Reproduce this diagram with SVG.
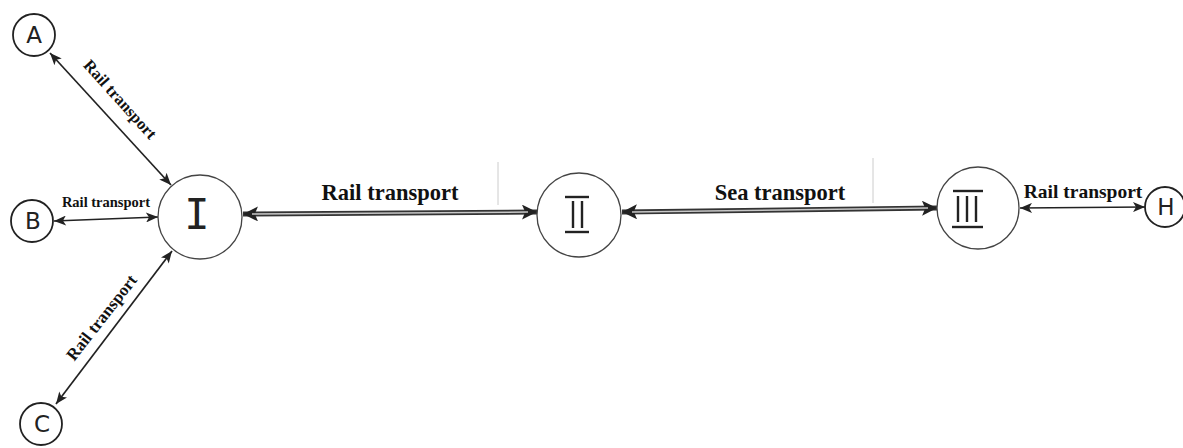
<svg xmlns="http://www.w3.org/2000/svg" width="1183" height="448" viewBox="0 0 1183 448">
<style>
.node{fill:#fff;stroke:#222;stroke-width:1.8}
.hub{fill:#fff;stroke:#444;stroke-width:1.3}
.nl{font-family:"DejaVu Sans","Liberation Sans",sans-serif;font-size:23px;fill:#222;text-anchor:middle}
.rn{font-family:"DejaVu Sans Mono","Liberation Mono",monospace;fill:#222;text-anchor:middle}
.bar{stroke:#222;stroke-width:2.4}
.thin{stroke:#222;stroke-width:1.7;fill:none}
.thick{stroke:#333;stroke-width:5;fill:none}
.inner{stroke:#c8c8c8;stroke-width:1.5;fill:none}
.lbl{font-family:"Liberation Serif","Times New Roman",serif;font-weight:bold;fill:#111}
.faint{stroke:#ccc;stroke-width:1}
</style>
<defs>
<marker id="ah" viewBox="0 0 12 10" refX="12" refY="5" markerWidth="13" markerHeight="10" markerUnits="userSpaceOnUse" orient="auto-start-reverse">
<path d="M0,0 L12,5 L0,10 L3,5 Z" fill="#222"/>
</marker>
<marker id="ahb" viewBox="0 0 14 14" refX="14" refY="7" markerWidth="15" markerHeight="15" markerUnits="userSpaceOnUse" orient="auto-start-reverse">
<path d="M0,0 L14,7 L0,14 L3,7 Z" fill="#222"/>
</marker>
</defs>

<g id="artifacts">
<line class="faint" x1="498" y1="162" x2="498" y2="205"/>
<line class="faint" x1="873" y1="158" x2="873" y2="203"/>
</g>

<g id="connectors">
<line class="thin" x1="50" y1="53" x2="171" y2="185" marker-start="url(#ah)" marker-end="url(#ah)"/>
<line class="thin" x1="54" y1="221" x2="158" y2="217" marker-start="url(#ah)" marker-end="url(#ah)"/>
<line class="thin" x1="56" y1="404" x2="172" y2="251" marker-start="url(#ah)" marker-end="url(#ah)"/>
<line class="thick" x1="243" y1="214" x2="537" y2="212" marker-start="url(#ahb)" marker-end="url(#ahb)"/>
<line class="inner" x1="252" y1="214" x2="528" y2="212"/>
<line class="thick" x1="622" y1="212" x2="937" y2="208" marker-start="url(#ahb)" marker-end="url(#ahb)"/>
<line class="inner" x1="632" y1="212" x2="928" y2="208"/>
<line class="thin" x1="1020" y1="208" x2="1145" y2="207" marker-start="url(#ah)" marker-end="url(#ah)"/>
<text class="lbl" font-size="16.5" transform="translate(116,103) rotate(48)" text-anchor="middle">Rail transport</text>
<text class="lbl" font-size="14.5" x="106" y="207" text-anchor="middle">Rail transport</text>
<text class="lbl" font-size="17" transform="translate(106,321) rotate(-52)" text-anchor="middle">Rail transport</text>
<text class="lbl" font-size="22.5" x="390" y="200" text-anchor="middle">Rail transport</text>
<text class="lbl" font-size="22.5" x="780" y="200" text-anchor="middle">Sea transport</text>
<text class="lbl" font-size="19.5" x="1083" y="198" text-anchor="middle">Rail transport</text>
</g>

<g id="node-A">
<circle class="node" cx="34" cy="35" r="21"/>
<text class="nl" x="34" y="43">A</text>
</g>
<g id="node-B">
<circle class="node" cx="32" cy="221" r="21"/>
<text class="nl" x="33" y="229">B</text>
</g>
<g id="node-C">
<circle class="node" cx="41" cy="424" r="21"/>
<text class="nl" x="42" y="432">C</text>
</g>
<g id="node-H">
<circle class="node" cx="1165" cy="207" r="20"/>
<text class="nl" x="1166" y="215">H</text>
</g>
<g id="node-I">
<circle class="hub" cx="200" cy="217" r="42"/>
<text class="rn" font-size="42" x="197" y="229">I</text>
</g>
<g id="node-II">
<circle class="hub" cx="579" cy="215" r="42"/>
<line class="bar" x1="565" y1="197" x2="589" y2="197"/>
<line class="bar" x1="573" y1="201" x2="573" y2="228"/>
<line class="bar" x1="582" y1="201" x2="582" y2="228"/>
<line class="bar" x1="565" y1="232" x2="589" y2="232"/>
</g>
<g id="node-III">
<circle class="hub" cx="978" cy="208" r="41"/>
<line class="bar" x1="953" y1="191" x2="983" y2="191"/>
<line class="bar" x1="958" y1="196" x2="958" y2="222"/>
<line class="bar" x1="967" y1="196" x2="967" y2="222"/>
<line class="bar" x1="976" y1="196" x2="976" y2="222"/>
<line class="bar" x1="952" y1="227" x2="983" y2="227"/>
</g>
</svg>
